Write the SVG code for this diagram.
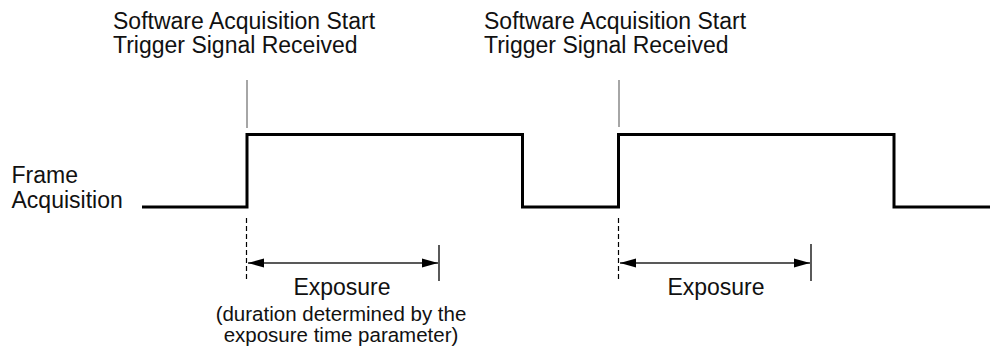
<svg xmlns="http://www.w3.org/2000/svg" width="990" height="347" viewBox="0 0 990 347">
<defs>
<style>
text{font-family:"Liberation Sans",Arial,sans-serif;fill:#111}
.t{font-size:23px}
.p{font-size:20.5px}
.sig{fill:none;stroke:#000;stroke-width:3;stroke-linejoin:miter}
.mark{stroke:#888;stroke-width:1.5}
.dash{stroke:#000;stroke-width:1.2;stroke-dasharray:5 3}
.dim{stroke:#222;stroke-width:1.3;marker-start:url(#ah);marker-end:url(#ah)}
.tick{stroke:#000;stroke-width:1.3}
</style>
<marker id="ah" viewBox="0 0 16 10" refX="16" refY="5" markerWidth="16" markerHeight="10" markerUnits="userSpaceOnUse" orient="auto-start-reverse">
<path d="M0,0.5 L16,5 L0,9.5 Z" fill="#000"/>
</marker>
</defs>
<g id="label-frame-acquisition">
<text class="t" x="11.5" y="183">Frame</text>
<text class="t" x="11.5" y="208">Acquisition</text>
</g>
<g id="trigger-1">
<text class="t" x="113" y="29">Software Acquisition Start</text>
<text class="t" x="113" y="53">Trigger Signal Received</text>
</g>
<g id="trigger-2">
<text class="t" x="484" y="29">Software Acquisition Start</text>
<text class="t" x="484" y="53">Trigger Signal Received</text>
</g>
<g id="signal">
<polyline class="sig" points="142,207 247,207 247,134.5 522.5,134.5 522.5,207 618.5,207 618.5,134.5 894,134.5 894,207 990,207"/>
</g>
<g id="exposure-1">
<text class="t" x="342" y="295" text-anchor="middle">Exposure</text>
<text class="p" x="341" y="321" text-anchor="middle">(duration determined by the</text>
<text class="p" x="341" y="342" text-anchor="middle">exposure time parameter)</text>
</g>
<g id="exposure-2">
<text class="t" x="716" y="295" text-anchor="middle">Exposure</text>
</g>
<g id="connectors">
<line class="mark" x1="247" y1="80" x2="247" y2="128"/>
<line class="mark" x1="619" y1="80" x2="619" y2="127"/>
<line class="dash" x1="246.5" y1="218" x2="246.5" y2="282"/>
<line class="dash" x1="618.5" y1="218" x2="618.5" y2="282"/>
<line class="dim" x1="248" y1="263" x2="438" y2="263"/>
<line class="dim" x1="620" y1="263" x2="810" y2="263"/>
<line class="tick" x1="439" y1="245" x2="439" y2="281"/>
<line class="tick" x1="811" y1="244" x2="811" y2="281"/>
</g>
</svg>
